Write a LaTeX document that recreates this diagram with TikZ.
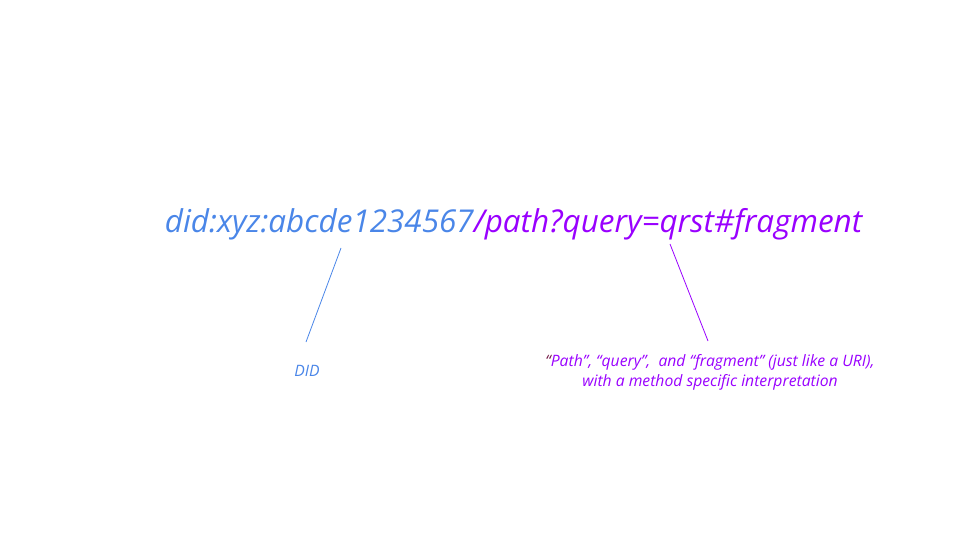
\documentclass[tikz,border=0pt]{standalone}
\usepackage{fontspec}
\setmainfont{Open Sans}
\definecolor{didblue}{HTML}{4A86E8}
\definecolor{didpurple}{HTML}{9900FF}
\definecolor{quotedark}{HTML}{741B47}
\begin{document}
\begin{tikzpicture}[x=1pt,y=-1pt,
  maintext/.style={inner sep=0pt,font=\fontsize{31.45}{37}\selectfont\itshape},
  lbl/.style={inner sep=0pt,font=\fontsize{15.7}{20}\selectfont\itshape,align=center},
  pointer/.style={line width=0.8pt}]
\useasboundingbox (0,0) rectangle (960,540);
\node[maintext,anchor=base] (did) at (513.5,232) {\textcolor{didblue}{did:xyz:abcde1234567}\textcolor{didpurple}{/path?query=qrst\#fragment}};
\coordinate (a1) at (341,248);
\coordinate (a2) at (306,342);
\coordinate (b1) at (670,244);
\coordinate (b2) at (708,341);
\draw[pointer,didblue] (a1) -- (a2);
\draw[pointer,didpurple] (b1) -- (b2);
\node[lbl,text=didblue,anchor=base] (didlbl) at (307,376) {DID};
\node[lbl,text=didpurple,anchor=base] (pqf) at (710,386) {\textcolor{quotedark}{“}Path”, “query”,\ \ and “fragment” (just like a URI),\\with a method specific interpretation};
\end{tikzpicture}
\end{document}
